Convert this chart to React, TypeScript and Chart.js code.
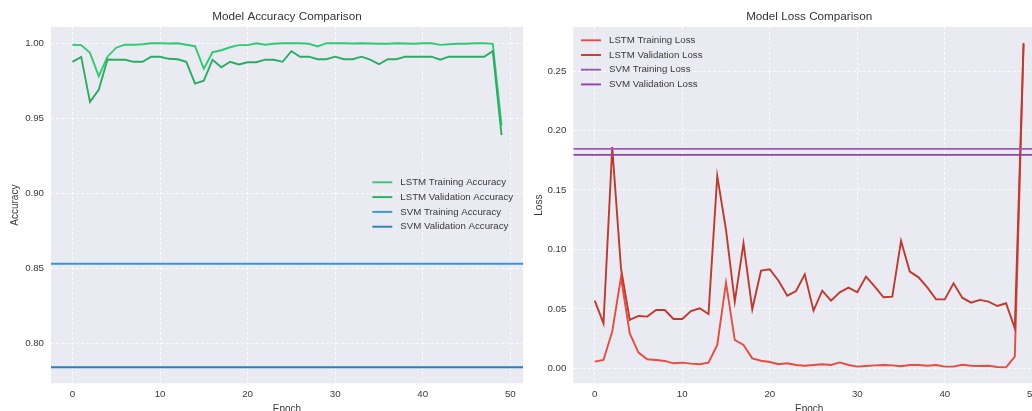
import React, { useEffect, useRef } from "react";
import { Chart, registerables } from "chart.js";

Chart.register(...registerables);

// ---------- data ----------
const EPOCHS = [
  0, 1, 2, 3, 4, 5, 6, 7, 8, 9, 10, 11, 12, 13, 14, 15, 16, 17, 18, 19, 20, 21, 22, 23, 24,
  25, 26, 27, 28, 29, 30, 31, 32, 33, 34, 35, 36, 37, 38, 39, 40, 41, 42, 43, 44, 45, 46, 47, 48, 49,
];

const LSTM_TRAIN_ACC = [
  0.999, 0.9987, 0.9936, 0.978, 0.991, 0.997, 0.999, 0.999, 0.9993, 1.0,
  1.0, 0.9998, 1.0, 0.999, 0.998, 0.983, 0.994, 0.9953, 0.9973, 0.9987,
  0.9987, 1.0, 0.999, 0.9996, 1.0, 1.0, 1.0, 0.9996, 0.9978, 1.0,
  1.0, 1.0, 0.9998, 1.0, 0.9998, 0.9996, 0.9996, 1.0, 0.9998, 0.9996,
  1.0, 1.0, 0.9989, 0.9993, 0.9996, 0.9996, 1.0, 1.0, 0.9996, 0.9453,
];
const LSTM_VAL_ACC = [
  0.9876, 0.9909, 0.9609, 0.969, 0.9891, 0.989, 0.989, 0.9876, 0.9876, 0.991,
  0.991, 0.9896, 0.9893, 0.9876, 0.9731, 0.975, 0.989, 0.984, 0.9876, 0.9858,
  0.9873, 0.9873, 0.989, 0.989, 0.9876, 0.9947, 0.991, 0.991, 0.9893, 0.9893,
  0.991, 0.9893, 0.9893, 0.991, 0.989, 0.986, 0.9893, 0.9893, 0.991, 0.991,
  0.991, 0.991, 0.989, 0.991, 0.991, 0.991, 0.991, 0.991, 0.9947, 0.9387,
];
const SVM_TRAIN_ACC = 0.853;
const SVM_VAL_ACC = 0.784;

const LSTM_TRAIN_LOSS = [
  0.0056, 0.007, 0.031, 0.0765, 0.0294, 0.0132, 0.0076, 0.007, 0.0062, 0.0042,
  0.0048, 0.0039, 0.0034, 0.0048, 0.0196, 0.072, 0.0238, 0.0196, 0.0084, 0.0064,
  0.0053, 0.0034, 0.0042, 0.0028, 0.0022, 0.0028, 0.0034, 0.0028, 0.005, 0.0028,
  0.0014, 0.002, 0.0025, 0.0028, 0.0025, 0.0017, 0.0028, 0.0028, 0.0022, 0.0028,
  0.0014, 0.0014, 0.003, 0.0022, 0.002, 0.0022, 0.0011, 0.0008, 0.0098, 0.272,
];
const LSTM_VAL_LOSS = [
  0.0569, 0.0378, 0.186, 0.084, 0.0407, 0.044, 0.0435, 0.049, 0.049, 0.0415,
  0.0415, 0.0482, 0.0505, 0.0457, 0.1618, 0.1163, 0.0561, 0.1051, 0.0496, 0.0821,
  0.0833, 0.0737, 0.0611, 0.065, 0.079, 0.0485, 0.0653, 0.0569, 0.0639, 0.0678,
  0.0639, 0.0771, 0.0687, 0.0597, 0.0603, 0.1071, 0.0813, 0.0765, 0.0681, 0.058,
  0.058, 0.0715, 0.0594, 0.0552, 0.0575, 0.0561, 0.0524, 0.0547, 0.0336, 0.2735,
];
const SVM_TRAIN_LOSS = 0.1845;
const SVM_VAL_LOSS = 0.1795;

const X_TICKS = [0, 10, 20, 30, 40, 50];
const ACC_TICKS = [0.8, 0.85, 0.9, 0.95, 1.0];
const LOSS_TICKS = [0.0, 0.05, 0.1, 0.15, 0.2, 0.25];

const X_MIN = -2.45;
const X_MAX = 51.45;
const ACC_MIN = 0.7733;
const ACC_MAX = 1.0108;
const LOSS_MIN = -0.0126;
const LOSS_MAX = 0.287;

// ---------- style ----------
const FONT = "'Liberation Sans', Arial, 'DejaVu Sans', sans-serif";
const TEXT = "#3a3a3a";
const BG = "#EAEAF2";
const GRID = "rgba(255,255,255,0.8)";
const CANVAS_H = 430;
const PLOT_BOTTOM = 383.3;

const bgPlugin = {
  id: "plotBg",
  beforeDraw(chart: any) {
    const { ctx, chartArea } = chart;
    ctx.save();
    ctx.fillStyle = BG;
    ctx.fillRect(chartArea.left, chartArea.top, chartArea.right - chartArea.left, chartArea.bottom - chartArea.top);
    ctx.restore();
  },
};

const legendPlugin = {
  id: "legendInside",
  afterDatasetsDraw(chart: any, _args: any, opts: any) {
    const { ctx, chartArea } = chart;
    ctx.save();
    ctx.font = `${opts.fontSize}px ${FONT}`;
    ctx.textBaseline = "middle";
    ctx.textAlign = "left";
    chart.data.datasets.forEach((ds: any, i: number) => {
      const y = chartArea.top + opts.top + i * opts.rowGap;
      const x = chartArea.left + opts.left;
      ctx.strokeStyle = ds.borderColor;
      ctx.lineWidth = ds.borderWidth;
      ctx.beginPath();
      ctx.moveTo(x, y);
      ctx.lineTo(x + opts.handle, y);
      ctx.stroke();
      ctx.fillStyle = TEXT;
      ctx.fillText(ds.label, x + opts.handle + opts.gap, y);
    });
    ctx.restore();
  },
};

function seriesDs(label: string, values: number[], color: string, order: number) {
  return {
    label,
    data: EPOCHS.map((e, i) => ({ x: e, y: values[i] })),
    borderColor: color,
    backgroundColor: color,
    borderWidth: 1.9,
    pointRadius: 0,
    tension: 0,
    fill: false,
    order,
  };
}

function hlineDs(label: string, value: number, color: string, order: number) {
  return {
    label,
    data: [
      { x: X_MIN, y: value },
      { x: X_MAX, y: value },
    ],
    borderColor: color,
    backgroundColor: color,
    borderWidth: 1.9,
    pointRadius: 0,
    tension: 0,
    fill: false,
    order,
  };
}

function makeConfig(opts: {
  title: string;
  yTitle: string;
  datasets: any[];
  yMin: number;
  yMax: number;
  yTicks: number[];
  yWidth: number;
  yTitlePad: number;
  legend: any;
}) {
  return {
    type: "line",
    data: { datasets: opts.datasets },
    options: {
      responsive: false,
      animation: false,
      events: [],
      layout: { padding: 0 },
      plugins: {
        legend: { display: false },
        tooltip: { enabled: false },
        title: {
          display: true,
          text: opts.title,
          fullSize: false,
          color: "#333",
          font: { size: 11.7, family: FONT, weight: "normal" },
          padding: { top: 10, bottom: 2.96 },
        },
        legendInside: opts.legend,
      },
      scales: {
        x: {
          type: "linear",
          min: X_MIN,
          max: X_MAX,
          afterBuildTicks: (s: any) => {
            s.ticks = X_TICKS.map((v) => ({ value: v }));
          },
          afterFit: (s: any) => {
            s.height = CANVAS_H - PLOT_BOTTOM;
          },
          grid: { color: GRID, lineWidth: 1, drawTicks: false },
          border: { display: false, dash: [3, 2] },
          ticks: {
            padding: 5,
            color: TEXT,
            maxRotation: 0,
            autoSkip: false,
            font: { size: 9.7, family: FONT },
            callback: (v: any) => String(v),
          },
          title: {
            display: true,
            text: "Epoch",
            color: TEXT,
            font: { size: 10, family: FONT },
            padding: { top: 0, bottom: 14.5 },
          },
        },
        y: {
          type: "linear",
          min: opts.yMin,
          max: opts.yMax,
          afterBuildTicks: (s: any) => {
            s.ticks = opts.yTicks.map((v) => ({ value: v }));
          },
          afterFit: (s: any) => {
            s.width = opts.yWidth;
          },
          grid: { color: GRID, lineWidth: 1, drawTicks: false },
          border: { display: false, dash: [3, 2] },
          ticks: {
            padding: 7,
            color: TEXT,
            font: { size: 9.7, family: FONT },
            callback: (v: any) => Number(v).toFixed(2),
          },
          title: {
            display: true,
            text: opts.yTitle,
            color: TEXT,
            font: { size: 10, family: FONT },
            padding: { top: opts.yTitlePad, bottom: 0 },
          },
        },
      },
    },
    plugins: [bgPlugin, legendPlugin],
  };
}

function ChartCanvas({ config, width, left }: { config: any; width: number; left: number }) {
  const ref = useRef<HTMLCanvasElement | null>(null);
  useEffect(() => {
    if (!ref.current) return;
    const chart = new Chart(ref.current, config);
    return () => chart.destroy();
  }, [config]);
  return (
    <canvas
      ref={ref}
      width={width}
      height={CANVAS_H}
      style={{ position: "absolute", left, top: 0, width, height: CANVAS_H }}
    />
  );
}

const accConfig = makeConfig({
  title: "Model Accuracy Comparison",
  yTitle: "Accuracy",
  datasets: [
    seriesDs("LSTM Training Accuracy", LSTM_TRAIN_ACC, "#2ecc71", 4),
    seriesDs("LSTM Validation Accuracy", LSTM_VAL_ACC, "#27ae60", 3),
    hlineDs("SVM Training Accuracy", SVM_TRAIN_ACC, "#3498db", 2),
    hlineDs("SVM Validation Accuracy", SVM_VAL_ACC, "#2980b9", 1),
  ],
  yMin: ACC_MIN,
  yMax: ACC_MAX,
  yTicks: ACC_TICKS,
  yWidth: 51,
  yTitlePad: 9,
  legend: { left: 321.3, top: 155.3, rowGap: 14.8, handle: 20, gap: 8, fontSize: 9.7 },
});

const lossConfig = makeConfig({
  title: "Model Loss Comparison",
  yTitle: "Loss",
  datasets: [
    seriesDs("LSTM Training Loss", LSTM_TRAIN_LOSS, "#e74c3c", 4),
    seriesDs("LSTM Validation Loss", LSTM_VAL_LOSS, "#c0392b", 3),
    hlineDs("SVM Training Loss", SVM_TRAIN_LOSS, "#9b59b6", 2),
    hlineDs("SVM Validation Loss", SVM_VAL_LOSS, "#8e44ad", 1),
  ],
  yMin: LOSS_MIN,
  yMax: LOSS_MAX,
  yTicks: LOSS_TICKS,
  yWidth: 50.3,
  yTitlePad: 10,
  legend: { left: 7.7, top: 13.3, rowGap: 14.7, handle: 20, gap: 8, fontSize: 9.7 },
});

export default function App() {
  return (
    <div
      style={{
        position: "fixed",
        left: 0,
        top: 0,
        width: 1032,
        height: 411,
        overflow: "hidden",
        background: "#ffffff",
      }}
    >
      <ChartCanvas config={accConfig} width={523} left={0} />
      <ChartCanvas config={lossConfig} width={522} left={523} />
    </div>
  );
}
